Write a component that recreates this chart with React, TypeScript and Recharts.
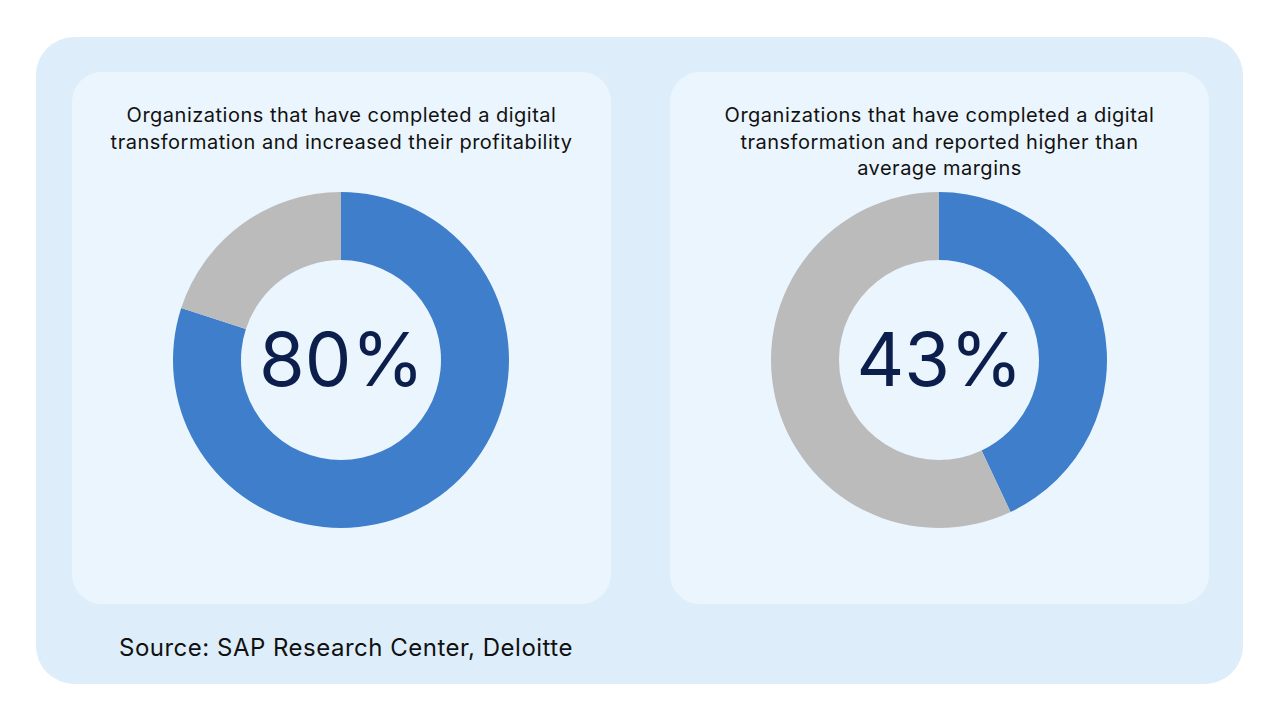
import React from "react";
import { PieChart, Pie, Cell, Label } from "recharts";

const panelTitles = [
  ["Organizations that have completed a digital", "transformation and increased their profitability"],
  ["Organizations that have completed a digital", "transformation and reported higher than", "average margins"],
];
const shareLabels = ["Yes", "No"];
const leftValues = [80, 20];
const rightValues = [43, 57];
const centerTexts = ["80%", "43%"];
const sourceText = "Source: SAP Research Center, Deloitte";

const BLUE = "#3F7ECB";
const GREY = "#BBBBBB";
const NAVY = "#0C1E4C";
const FONT = "Inter, sans-serif";

const leftData = shareLabels.map((name, i) => ({ name, value: leftValues[i] }));
const rightData = shareLabels.map((name, i) => ({ name, value: rightValues[i] }));

function Panel({
  left,
  lines,
  data,
  text,
}: {
  left: number;
  lines: string[];
  data: { name: string; value: number }[];
  text: string;
}) {
  return (
    <div
      style={{
        position: "absolute",
        left,
        top: 72,
        width: 539,
        height: 532,
        background: "#EBF5FD",
        borderRadius: 30,
      }}
    >
      <div style={{ position: "absolute", top: 0, left: 0 }}>
        <PieChart width={539} height={532} margin={{ top: 0, right: 0, bottom: 0, left: 0 }}>
          <Pie
            data={data}
            dataKey="value"
            nameKey="name"
            cx={269}
            cy={288}
            innerRadius={100}
            outerRadius={168}
            startAngle={90}
            endAngle={-270}
            stroke="none"
            isAnimationActive={false}
          >
            {data.map((d, i) => (
              <Cell key={d.name} fill={i === 0 ? BLUE : GREY} />
            ))}
            <Label
              value={text}
              position="center"
              fill={NAVY}
              dy={22}
              style={{ fontSize: 74, fontFamily: FONT, fontWeight: 400 }}
            />
          </Pie>
        </PieChart>
      </div>
      <div
        style={{
          position: "absolute",
          top: 30,
          left: 0,
          width: "100%",
          textAlign: "center",
          fontSize: 20,
          letterSpacing: 0.5,
          lineHeight: "26.5px",
          color: "#111",
          fontFamily: FONT,
        }}
      >
        {lines.map((l) => (
          <div key={l}>{l}</div>
        ))}
      </div>
    </div>
  );
}

export default function App() {
  return (
    <div style={{ position: "fixed", top: 0, left: 0, width: 1280, height: 720, background: "#fff" }}>
      <div
        style={{
          position: "absolute",
          left: 36,
          top: 37,
          width: 1207,
          height: 647,
          background: "#DDEEFA",
          borderRadius: 38,
        }}
      />
      <Panel left={72} lines={panelTitles[0]} data={leftData} text={centerTexts[0]} />
      <Panel left={670} lines={panelTitles[1]} data={rightData} text={centerTexts[1]} />
      <div
        style={{
          position: "absolute",
          left: 119,
          top: 633,
          fontSize: 24,
          letterSpacing: 0.5,
          fontFamily: FONT,
          color: "#111",
        }}
      >
        {sourceText}
      </div>
    </div>
  );
}
